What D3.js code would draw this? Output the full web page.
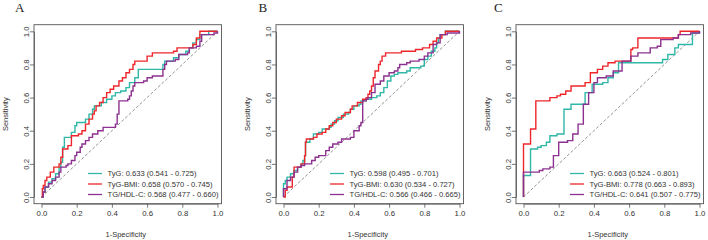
<!DOCTYPE html>
<html><head><meta charset="utf-8">
<script src="https://cdn.jsdelivr.net/npm/d3@7"></script>
<style>body{margin:0;background:#fff}svg{display:block}</style>
</head><body>
<svg id="c" width="708" height="240"></svg>
<script>
// ---- data (1-Specificity, Sensitivity) step vertices ----
const ticks = [0, 0.2, 0.4, 0.6, 0.8, 1.0];
const seriesNames = ["TyG", "TyG-BMI", "TG/HDL-C"];
const panelLetters = ["A", "B", "C"];

const aTyG = [[0,0],[0.01,0.03],[0.02,0.06],[0.04,0.09],[0.06,0.11],[0.08,0.14],[0.1,0.18],[0.11,0.21],[0.12,0.3],[0.13,0.36],[0.17,0.39],[0.19,0.43],[0.2,0.45],[0.25,0.47],[0.27,0.5],[0.29,0.53],[0.3,0.55],[0.34,0.57],[0.37,0.59],[0.4,0.61],[0.42,0.63],[0.45,0.64],[0.48,0.66],[0.5,0.69],[0.53,0.72],[0.55,0.77],[0.69,0.8],[0.7,0.82],[0.75,0.84],[0.78,0.86],[0.82,0.88],[0.84,0.9],[0.86,0.93],[0.88,0.95],[0.9,0.98],[0.95,1],[1,1]];
const aBMI = [[0,0],[0.005,0.05],[0.01,0.07],[0.02,0.1],[0.03,0.12],[0.05,0.15],[0.07,0.18],[0.1,0.2],[0.11,0.24],[0.12,0.29],[0.15,0.31],[0.17,0.37],[0.21,0.38],[0.23,0.4],[0.25,0.44],[0.27,0.47],[0.29,0.5],[0.3,0.52],[0.31,0.55],[0.33,0.57],[0.35,0.6],[0.37,0.63],[0.39,0.65],[0.41,0.67],[0.44,0.7],[0.46,0.72],[0.48,0.75],[0.5,0.77],[0.52,0.8],[0.53,0.82],[0.6,0.85],[0.63,0.87],[0.75,0.88],[0.77,0.9],[0.86,0.92],[0.88,0.96],[0.9,1.0],[1,1]];
const aHDL = [[0,0],[0.01,0.03],[0.02,0.06],[0.04,0.08],[0.06,0.1],[0.08,0.12],[0.1,0.15],[0.11,0.18],[0.14,0.19],[0.15,0.2],[0.17,0.22],[0.19,0.25],[0.2,0.27],[0.22,0.3],[0.23,0.32],[0.25,0.34],[0.27,0.36],[0.29,0.38],[0.32,0.4],[0.35,0.42],[0.42,0.44],[0.43,0.5],[0.44,0.58],[0.49,0.59],[0.5,0.61],[0.51,0.64],[0.52,0.67],[0.53,0.69],[0.58,0.7],[0.6,0.72],[0.63,0.73],[0.69,0.77],[0.7,0.8],[0.71,0.82],[0.76,0.83],[0.78,0.86],[0.83,0.87],[0.84,0.9],[0.88,0.91],[0.9,0.94],[0.91,0.98],[0.98,0.99],[1,1]];

const bTyG = [[0,0],[0,0.08],[0.01,0.1],[0.02,0.12],[0.04,0.14],[0.06,0.16],[0.08,0.18],[0.1,0.2],[0.11,0.22],[0.12,0.25],[0.125,0.33],[0.15,0.35],[0.17,0.38],[0.2,0.39],[0.22,0.41],[0.26,0.42],[0.27,0.44],[0.29,0.46],[0.31,0.48],[0.34,0.5],[0.37,0.51],[0.38,0.53],[0.4,0.55],[0.43,0.56],[0.44,0.58],[0.47,0.59],[0.5,0.6],[0.53,0.61],[0.55,0.63],[0.57,0.66],[0.59,0.7],[0.61,0.73],[0.63,0.74],[0.65,0.75],[0.7,0.76],[0.72,0.78],[0.78,0.79],[0.8,0.83],[0.82,0.85],[0.84,0.88],[0.86,0.9],[0.87,0.93],[0.88,0.96],[0.89,0.98],[0.92,1],[1,1]];
const bBMI = [[0,0],[0.01,0.04],[0.02,0.06],[0.05,0.12],[0.06,0.18],[0.09,0.18],[0.1,0.2],[0.12,0.25],[0.125,0.33],[0.13,0.35],[0.17,0.36],[0.19,0.38],[0.22,0.39],[0.24,0.41],[0.26,0.43],[0.28,0.45],[0.3,0.47],[0.33,0.49],[0.35,0.51],[0.38,0.53],[0.39,0.55],[0.42,0.57],[0.45,0.59],[0.47,0.6],[0.48,0.62],[0.49,0.64],[0.5,0.67],[0.51,0.72],[0.52,0.76],[0.54,0.8],[0.55,0.82],[0.56,0.85],[0.58,0.87],[0.67,0.88],[0.75,0.89],[0.79,0.9],[0.83,0.92],[0.85,0.94],[0.87,0.96],[0.9,0.98],[0.92,1],[1,1]];
const bHDL = [[0,0],[0,0.05],[0.02,0.1],[0.04,0.12],[0.06,0.15],[0.08,0.18],[0.1,0.19],[0.12,0.2],[0.16,0.22],[0.18,0.24],[0.2,0.25],[0.24,0.28],[0.26,0.3],[0.28,0.32],[0.31,0.33],[0.33,0.35],[0.38,0.36],[0.4,0.4],[0.43,0.43],[0.44,0.45],[0.45,0.58],[0.47,0.59],[0.48,0.6],[0.5,0.63],[0.52,0.68],[0.55,0.7],[0.57,0.73],[0.6,0.75],[0.63,0.76],[0.65,0.78],[0.66,0.8],[0.7,0.81],[0.72,0.82],[0.77,0.83],[0.8,0.85],[0.82,0.87],[0.85,0.92],[0.87,0.93],[0.89,0.98],[0.93,0.99],[1,1]];

const cTyG = [[0,0],[0,0.13],[0.04,0.29],[0.08,0.3],[0.1,0.31],[0.13,0.33],[0.15,0.37],[0.19,0.38],[0.23,0.53],[0.27,0.56],[0.35,0.63],[0.39,0.68],[0.45,0.69],[0.48,0.72],[0.51,0.75],[0.54,0.81],[0.75,0.81],[0.79,0.83],[0.82,0.86],[0.86,0.9],[0.88,0.92],[0.96,0.99],[1,1]];
const cBMI = [[0,0],[0,0.32],[0.04,0.41],[0.07,0.58],[0.15,0.6],[0.19,0.61],[0.21,0.62],[0.24,0.64],[0.27,0.67],[0.35,0.69],[0.38,0.75],[0.42,0.77],[0.45,0.79],[0.48,0.81],[0.52,0.82],[0.61,0.89],[0.62,0.9],[0.65,0.96],[0.88,0.98],[0.89,1.0],[1,1]];
const cHDL = [[0,0],[0,0.15],[0.05,0.15],[0.09,0.16],[0.11,0.17],[0.15,0.18],[0.17,0.25],[0.2,0.33],[0.25,0.34],[0.28,0.38],[0.31,0.44],[0.34,0.56],[0.37,0.63],[0.4,0.69],[0.42,0.72],[0.47,0.73],[0.51,0.76],[0.56,0.82],[0.61,0.85],[0.65,0.87],[0.72,0.9],[0.76,0.91],[0.78,0.95],[0.85,0.96],[0.88,0.98],[0.95,0.99],[1,1]];

const legendA = ["TyG: 0.633 (0.541 - 0.725)", "TyG-BMI: 0.658 (0.570 - 0.745)", "TG/HDL-C: 0.568 (0.477 - 0.660)"];
const legendB = ["TyG: 0.598 (0.495 - 0.701)", "TyG-BMI: 0.630 (0.534 - 0.727)", "TG/HDL-C: 0.566 (0.466 - 0.665)"];
const legendC = ["TyG: 0.663 (0.524 - 0.801)", "TyG-BMI: 0.778 (0.663 - 0.893)", "TG/HDL-C: 0.641 (0.507 - 0.775)"];

// ---- layout / style ----
const colors = ["#2fb7a7", "#ee262b", "#8c318f"];
const panels = [
  {letter: panelLetters[0], L: 34, lx: 15, series: [aTyG, aBMI, aHDL], legend: legendA},
  {letter: panelLetters[1], L: 276, lx: 258.5, series: [bTyG, bBMI, bHDL], legend: legendB},
  {letter: panelLetters[2], L: 516, lx: 494, series: [cTyG, cBMI, cHDL], legend: legendC}
];
const boxTop = 24.7, boxBot = 203.7, boxW = 187.5;
const font = "'Liberation Sans', Arial, sans-serif";
const svg = d3.select("#c");

panels.forEach(p => {
  const g = svg.append("g");
  const x = d3.scaleLinear().domain([0, 1]).range([p.L + 7.5, p.L + 183.5]);
  const y = d3.scaleLinear().domain([0, 1]).range([197, 31.3]);

  // panel letter
  g.append("text").attr("x", p.lx).attr("y", 12).text(p.letter)
    .attr("font-family", "'Liberation Serif', 'Times New Roman', serif")
    .attr("font-size", 13).attr("fill", "#222");

  // diagonal
  g.append("line").attr("x1", x(0)).attr("y1", y(0)).attr("x2", x(1)).attr("y2", y(1))
    .attr("stroke", "#777").attr("stroke-width", 0.8).attr("stroke-dasharray", "3,2");

  // curves
  const line = d3.line().x(d => x(d[0])).y(d => y(d[1])).curve(d3.curveStepAfter);
  p.series.forEach((s, i) => {
    g.append("path").datum(s).attr("d", line).attr("fill", "none")
      .attr("stroke", colors[i]).attr("stroke-width", 1.4);
  });

  // box
  g.append("rect").attr("x", p.L).attr("y", boxTop).attr("width", boxW).attr("height", boxBot - boxTop)
    .attr("fill", "none").attr("stroke", "#555").attr("stroke-width", 0.9);

  // axes
  const xa = g.append("g").attr("transform", `translate(0,${boxBot})`)
    .call(d3.axisBottom(x).tickValues(ticks).tickFormat(d3.format(".1f")).tickSize(4).tickSizeOuter(0).tickPadding(3));
  const ya = g.append("g").attr("transform", `translate(${p.L},0)`)
    .call(d3.axisLeft(y).tickValues(ticks).tickFormat(d3.format(".1f")).tickSize(4).tickSizeOuter(0).tickPadding(3));
  [xa, ya].forEach(a => {
    a.selectAll("path,line").attr("stroke", "#555").attr("stroke-width", 0.8);
    a.selectAll("text").attr("font-family", font).attr("font-size", 7.8).attr("fill", "#333");
  });
  ya.selectAll(".tick text")
    .attr("text-anchor", "middle").attr("x", null).attr("y", null).attr("dy", 0)
    .attr("transform", "translate(-5.5,0) rotate(-90)");

  // axis titles
  g.append("text").attr("x", p.L + boxW / 2 - 2).attr("y", 237).attr("text-anchor", "middle")
    .attr("font-family", font).attr("font-size", 7.5).attr("fill", "#333").text("1-Specificity");
  g.append("text").attr("transform", `translate(${p.L - 26},${(boxTop + boxBot) / 2}) rotate(-90)`)
    .attr("text-anchor", "middle").attr("font-family", font).attr("font-size", 7.5).attr("fill", "#333").text("Sensitivity");

  // legend
  p.legend.forEach((t, i) => {
    const ly = 173.5 + i * 10.5;
    g.append("line").attr("x1", p.L + 54).attr("x2", p.L + 68).attr("y1", ly).attr("y2", ly)
      .attr("stroke", colors[i]).attr("stroke-width", 1.3);
    g.append("text").attr("x", p.L + 73.5).attr("y", ly).attr("dy", "0.35em")
      .attr("font-family", font).attr("font-size", 7.6).attr("fill", "#333").text(t);
  });
});
</script>
</body></html>
